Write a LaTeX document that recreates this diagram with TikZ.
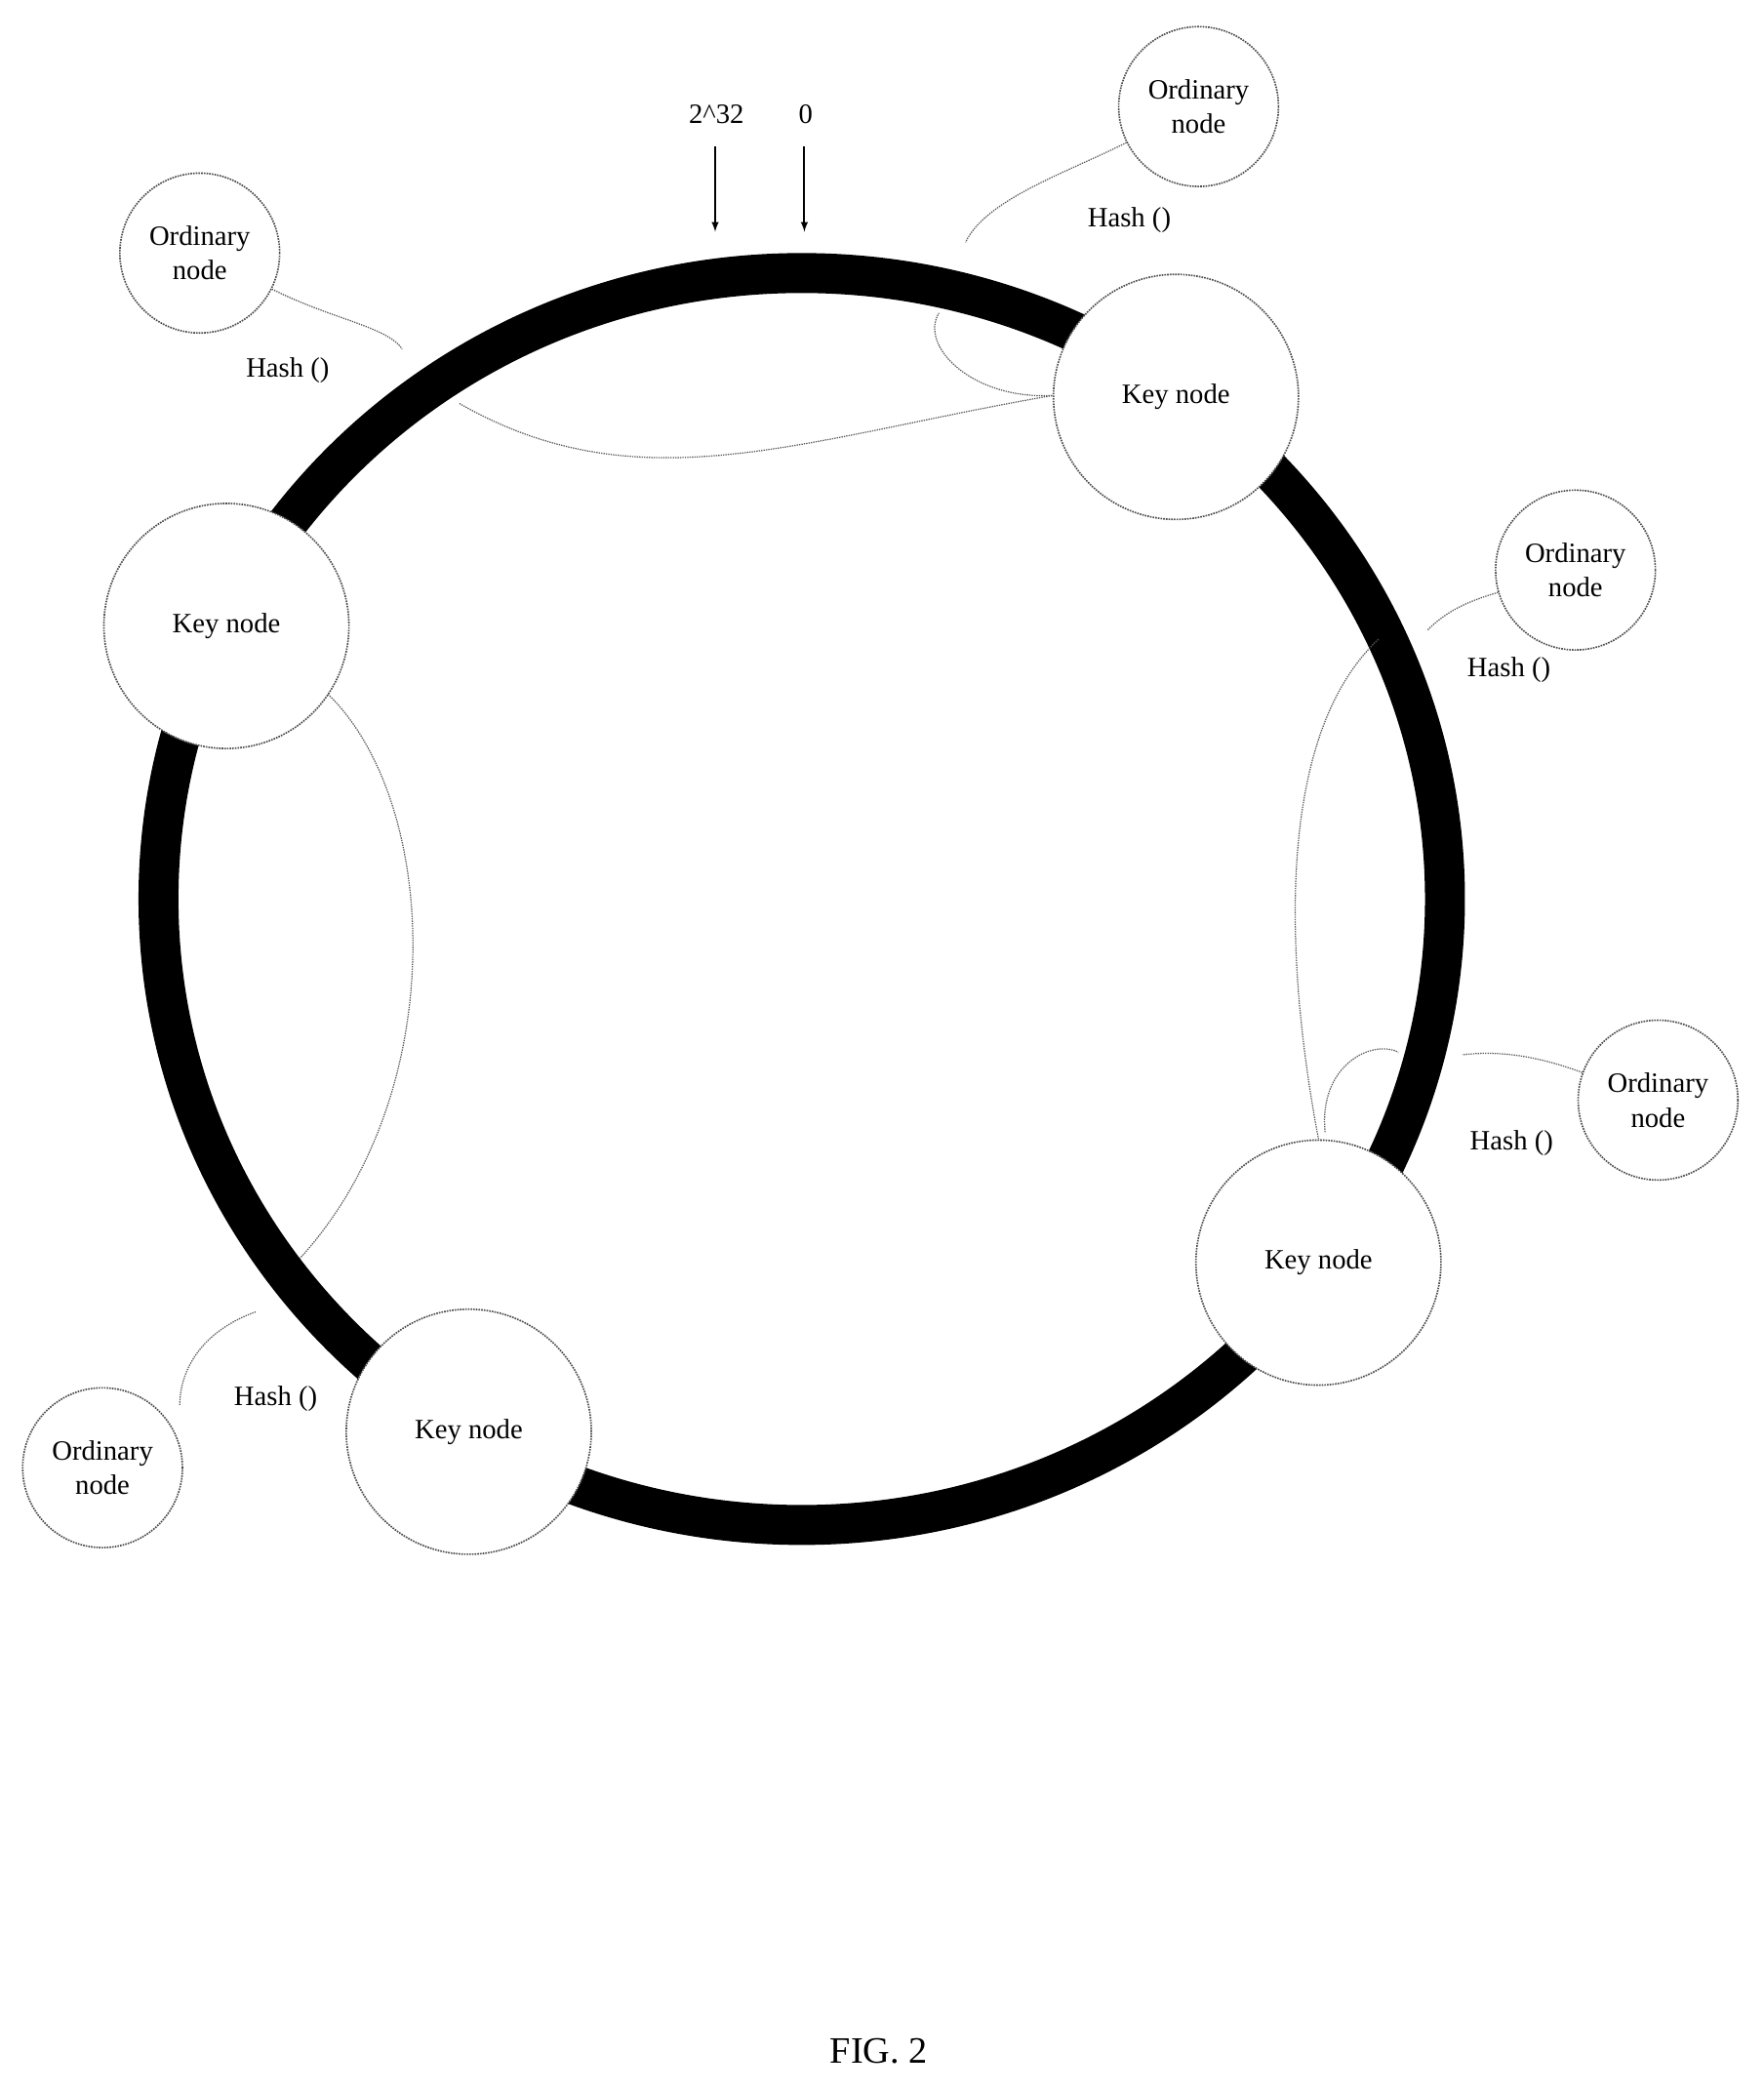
\documentclass[tikz,border=0pt]{standalone}
\usepackage{fontspec}
\setmainfont{Liberation Serif}
\begin{document}
\begin{tikzpicture}[x=1pt,y=-1pt,
  dot/.style={draw=black!70,dash pattern=on 1.2pt off 0.8pt,line width=1.2pt},
  thin/.style={draw=black!65,dash pattern=on 1pt off 0.8pt,line width=0.9pt},
  key/.style={circle,dot,fill=white,minimum size=184pt,inner sep=0pt,font=\fontsize{21}{24}\selectfont},
  ord/.style={circle,dot,fill=white,minimum size=120pt,inner sep=0pt,align=center,font=\fontsize{21}{26}\selectfont},
  lbl/.style={font=\fontsize{21}{24}\selectfont}]
\useasboundingbox (0,0) rectangle (1324,1570);
\draw[line width=30pt] (602,675) ellipse [x radius=483, y radius=470];
% arrows
\coordinate (a1) at (537,110); \coordinate (b1) at (537,174);
\coordinate (a2) at (604,110); \coordinate (b2) at (604,174);
\draw[line width=1.5pt,-latex] (a1) -- (b1);
\draw[line width=1.5pt,-latex] (a2) -- (b2);
\node[lbl] (t232) at (538,86) {2\^{}32};
\node[lbl] (t0) at (605,86) {0};
% loops
\draw[thin] (790,297) .. controls (600,330) and (480,380) .. (345,303);
\draw[thin] (790,297) .. controls (730,300) and (690,260) .. (705,235);
\draw[thin] (245,520) .. controls (330,600) and (340,820) .. (225,945);
\draw[thin] (1035,480) .. controls (950,560) and (970,750) .. (990,855);
\draw[thin] (995,850) .. controls (990,800) and (1030,780) .. (1050,790);
% key nodes
\node[key] (k1) at (883,298) {Key node};
\node[key] (k2) at (170,470) {Key node};
\node[key] (k3) at (990,948) {Key node};
\node[key] (k4) at (352,1075) {Key node};
% ordinary nodes
\node[ord] (o1) at (900,80) {Ordinary\\node};
\node[ord] (o2) at (150,190) {Ordinary\\node};
\node[ord] (o3) at (1183,428) {Ordinary\\node};
\node[ord] (o4) at (1245,826) {Ordinary\\node};
\node[ord] (o5) at (77,1102) {Ordinary\\node};
% hash connectors
\coordinate (c1) at (725,182);
\coordinate (c2) at (302,262);
\coordinate (c3) at (1072,473);
\coordinate (c4) at (1098,792);
\coordinate (c5) at (192,985);
\draw[thin] (o1) .. controls (800,130) and (740,150) .. (c1);
\draw[thin] (o2) .. controls (250,240) and (290,245) .. (c2);
\draw[thin] (o3) .. controls (1100,452) and (1085,460) .. (c3);
\draw[thin] (o4) .. controls (1160,795) and (1130,788) .. (c4);
\draw[thin] (c5) .. controls (150,1000) and (135,1030) .. (135,1055);
\node[lbl] (h1) at (848,165) {Hash ()};
\node[lbl] (h2) at (216,278) {Hash ()};
\node[lbl] (h3) at (1133,503) {Hash ()};
\node[lbl] (h4) at (1135,858) {Hash ()};
\node[lbl] (h5) at (207,1050) {Hash ()};
\node[font=\fontsize{28}{32}\selectfont] (fig) at (660,1540) {FIG. 2};
\end{tikzpicture}
\end{document}
